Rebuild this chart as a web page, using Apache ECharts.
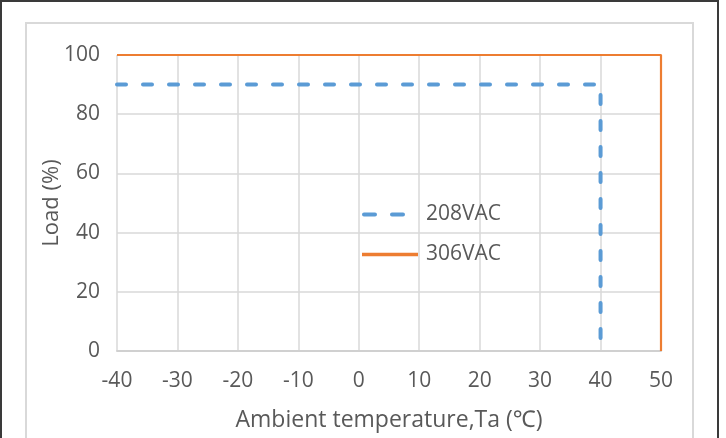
<!DOCTYPE html>
<html>
<head>
<meta charset="utf-8">
<script src="https://cdn.jsdelivr.net/npm/echarts@6/dist/echarts.min.js"></script>
<style>
html,body{margin:0;padding:0;background:#fff;}
#c{width:726px;height:438px;}
</style>
</head>
<body>
<div id="c"></div>
<script>
var seriesNames = ['208VAC', '306VAC'];
var temp208 = [-40, 40, 40];
var load208 = [90, 90, 0];
var temp306 = [-40, 50, 50];
var load306 = [100, 100, 0];
var xTicks = [-40, 50, 10];
var yTicks = [0, 100, 20];

function pairs(xs, ys) { return xs.map(function (x, i) { return [x, ys[i]]; }); }

var FONT = '"Open Sans", "Noto Sans", sans-serif';
var chart = echarts.init(document.getElementById('c'), null, {renderer: 'canvas'});
chart.setOption({
  animation: false,
  backgroundColor: '#fff',
  graphic: [
    {type: 'rect', shape: {x: 1, y: 1, width: 717, height: 460}, style: {fill: 'none', stroke: '#3a3a3a', lineWidth: 2}, z: 100},
    {type: 'rect', shape: {x: 26, y: 23, width: 667, height: 440}, style: {fill: 'none', stroke: '#d9d9d9', lineWidth: 2}, z: 100}
  ],
  grid: {left: 117, top: 55, right: 65, bottom: 87, containLabel: false},
  legend: {
    orient: 'vertical',
    left: 360, top: 204, padding: 0,
    itemWidth: 56, itemHeight: 14, itemGap: 19,
    itemStyle: {opacity: 0},
    textStyle: {fontFamily: FONT, fontSize: 21, color: '#595959', padding: [0, 0, 0, 3]},
    data: [
      {name: seriesNames[0], lineStyle: {width: 4, type: [11, 17], cap: 'round', dashOffset: -2}},
      {name: seriesNames[1], lineStyle: {width: 3.5}}
    ]
  },
  xAxis: {
    type: 'value', min: xTicks[0], max: xTicks[1], interval: xTicks[2],
    name: 'Ambient temperature,Ta (\u2103)', nameLocation: 'middle', nameGap: 58,
    nameMoveOverlap: false,
    nameTextStyle: {fontFamily: FONT, fontSize: 23, color: '#595959'},
    axisLine: {show: true, lineStyle: {color: '#d0d0d0', width: 2}},
    axisTick: {show: false},
    axisLabel: {fontFamily: FONT, fontSize: 21, color: '#595959', margin: 20},
    splitLine: {show: true, lineStyle: {color: '#d9d9d9', width: 1.5}}
  },
  yAxis: {
    type: 'value', min: yTicks[0], max: yTicks[1], interval: yTicks[2],
    name: 'Load (%)', nameLocation: 'middle', nameGap: 54, nameRotate: 90,
    nameMoveOverlap: false,
    nameTextStyle: {fontFamily: FONT, fontSize: 22, color: '#595959'},
    axisLine: {show: false}, axisTick: {show: false},
    axisLabel: {fontFamily: FONT, fontSize: 21, color: '#595959', margin: 17},
    splitLine: {show: true, lineStyle: {color: '#d9d9d9', width: 1.5}}
  },
  series: [
    {name: seriesNames[0], type: 'line', data: pairs(temp208, load208), symbol: 'none', z: 3,
     lineStyle: {color: '#5B9BD5', width: 4, type: [9, 17], cap: 'round', join: 'round'},
     itemStyle: {color: '#5B9BD5'}},
    {name: seriesNames[1], type: 'line', data: pairs(temp306, load306), symbol: 'none', z: 2,
     lineStyle: {color: '#ED7D31', width: 2.2},
     itemStyle: {color: '#ED7D31'}}
  ]
});
</script>
</body>
</html>
